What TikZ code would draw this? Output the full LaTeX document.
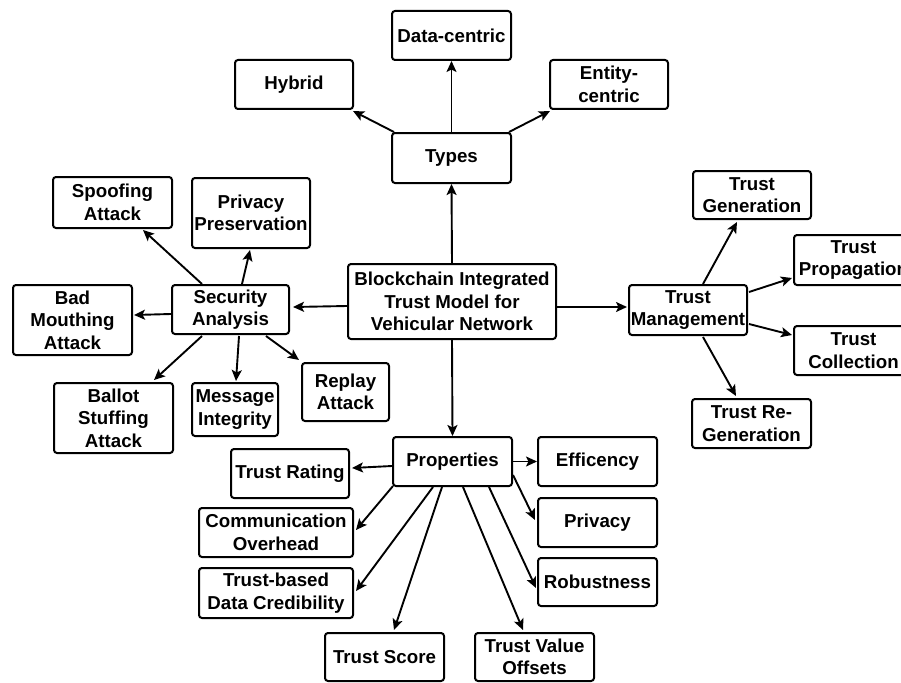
\documentclass[tikz,border=0pt]{standalone}
\usepackage{fontspec}
\setmainfont{Liberation Sans}
\usetikzlibrary{arrows.meta,calc}
\tikzset{
  box/.style={draw, line width=2pt, rounded corners=3pt, fill=white,
    align=center, inner sep=0pt,
    font=\bfseries\fontsize{18.7}{22.5}\selectfont},
  link/.style={line width=1.9pt, -{Stealth[length=11pt,width=10pt,inset=2.5pt]}},
}
\begin{document}
\begin{tikzpicture}[x=1pt,y=-1pt]
\useasboundingbox (0,0) rectangle (901,682);
\clip (0,0) rectangle (901,682);

% centre
\node[box, minimum width=208pt, minimum height=75pt] (center) at (452,301.5)
  {Blockchain Integrated\\Trust Model for\\Vehicular Network};

% types branch
\node[box, minimum width=119pt, minimum height=50pt] (types) at (451.5,158) {Types};
\node[box, minimum width=119pt, minimum height=49pt] (datac) at (451.5,35.5) {Data-centric};
\node[box, minimum width=118pt, minimum height=49pt] (hybrid) at (294,84.5) {Hybrid};
\node[box, minimum width=118pt, minimum height=49pt] (entity) at (609,84.5) {Entity-\\centric};

% security branch
\node[box, minimum width=117pt, minimum height=49pt] (sa) at (230.5,309.5) {Security\\Analysis};
\node[box, minimum width=119pt, minimum height=51pt] (spoof) at (112.5,202.5) {Spoofing\\Attack};
\node[box, minimum width=118pt, minimum height=70pt] (privp) at (251,213) {Privacy\\Preservation};
\node[box, minimum width=119pt, minimum height=70pt] (bad) at (72.5,320) {Bad\\Mouthing\\Attack};
\node[box, minimum width=119pt, minimum height=70pt] (ballot) at (113.5,418) {Ballot\\Stuffing\\Attack};
\node[box, minimum width=86pt, minimum height=53pt] (msg) at (235,409.5) {Message\\Integrity};
\node[box, minimum width=87pt, minimum height=58pt] (replay) at (345.5,392) {Replay\\Attack};

% trust management branch
\node[box, minimum width=118pt, minimum height=50pt] (tm) at (688,310) {Trust\\Management};
\node[box, minimum width=118pt, minimum height=48pt] (tg) at (752,195) {Trust\\Generation};
\node[box, minimum width=119pt, minimum height=50pt] (tp) at (853.5,260) {Trust\\Propagation};
\node[box, minimum width=119pt, minimum height=49pt] (tc) at (853.5,350.5) {Trust\\Collection};
\node[box, minimum width=119pt, minimum height=49pt] (trg) at (751.5,423.5) {Trust Re-\\Generation};

% properties branch
\node[box, minimum width=119pt, minimum height=49pt] (props) at (452.5,461.5) {Properties};
\node[box, minimum width=118pt, minimum height=49pt] (rating) at (290,473.5) {Trust Rating};
\node[box, minimum width=154pt, minimum height=49pt] (comm) at (276,532.5) {Communication\\Overhead};
\node[box, minimum width=154pt, minimum height=50pt] (tbdc) at (276,593) {Trust-based\\Data Credibility};
\node[box, minimum width=119pt, minimum height=48pt] (score) at (384.5,657) {Trust Score};
\node[box, minimum width=119pt, minimum height=48pt] (tvo) at (534.5,657) {Trust Value\\Offsets};
\node[box, minimum width=119pt, minimum height=49pt] (eff) at (597.5,461.5) {Efficency};
\node[box, minimum width=119pt, minimum height=49pt] (priv) at (597.5,522.5) {Privacy};
\node[box, minimum width=119pt, minimum height=48pt] (rob) at (597.5,582) {Robustness};

% connectors from the centre
\draw[link] (center.north) -- (types.south);
\draw[link] ($(center.west)+(0,4.5)$) -- ($(sa.east)+(3,-2.5)$);
\draw[link] ($(center.east)+(0,5.5)$) -- ($(tm.west)+(-1,-3)$);
\draw[link] (center.south) -- (props.north);

% types
\draw[link] (types.north) -- (datac.south);
\draw[link] ($(types.north west)+(3,0)$) -- ($(hybrid.south east)+(-1,1)$);
\draw[link] ($(types.north east)+(-3,0)$) -- ($(entity.south west)+(1,1)$);

% security analysis
\draw[link] ($(sa.north)+(-28.5,0)$) -- ($(spoof.south)+(30.5,1)$);
\draw[link] ($(sa.north)+(11.5,0)$) -- ($(privp.south)+(-1,1)$);
\draw[link] ($(sa.west)+(0,4.5)$) -- ($(bad.east)+(1,-5)$);
\draw[link] ($(sa.south)+(-28.5,1)$) -- ($(ballot.north)+(40.5,-2)$);
\draw[link] ($(sa.south)+(8.5,1)$) -- ($(msg.north)+(1,-1)$);
\draw[link] ($(sa.south)+(35.5,1)$) -- ($(replay.north west)+(-2,-2)$);

% trust management
\draw[link] ($(tm.north)+(15,0)$) -- ($(tg.south)+(-15,2)$);
\draw[link] ($(tm.east)+(1,-18)$) -- ($(tp.west)+(-1,18)$);
\draw[link] ($(tm.east)+(1,14)$) -- ($(tc.west)+(-1,-15.5)$);
\draw[link] ($(tm.south)+(15,1)$) -- ($(trg.north)+(-15.5,-2)$);

% properties
\draw[link] ($(props.west)+(0,4.5)$) -- ($(rating.east)+(2,-5.5)$);
\draw[link] ($(props.south west)+(1,-1)$) -- ($(comm.east)+(2,-2.5)$);
\draw[link] ($(props.south)+(-19.5,0)$) -- ($(tbdc.east)+(2,-2)$);
\draw[link] ($(props.south)+(-10.5,0)$) -- ($(score.north)+(9.5,-2)$);
\draw[link] ($(props.south)+(10.5,0)$) -- ($(tvo.north)+(-11.5,-2)$);
\draw[link] ($(props.south)+(36.5,0)$) -- ($(rob.west)+(-1,6)$);
\draw[link] ($(props.east)+(0,13.5)$) -- ($(priv.west)+(-2,-2.5)$);
\draw[link] (props.east) -- (eff.west);
\end{tikzpicture}
\end{document}
